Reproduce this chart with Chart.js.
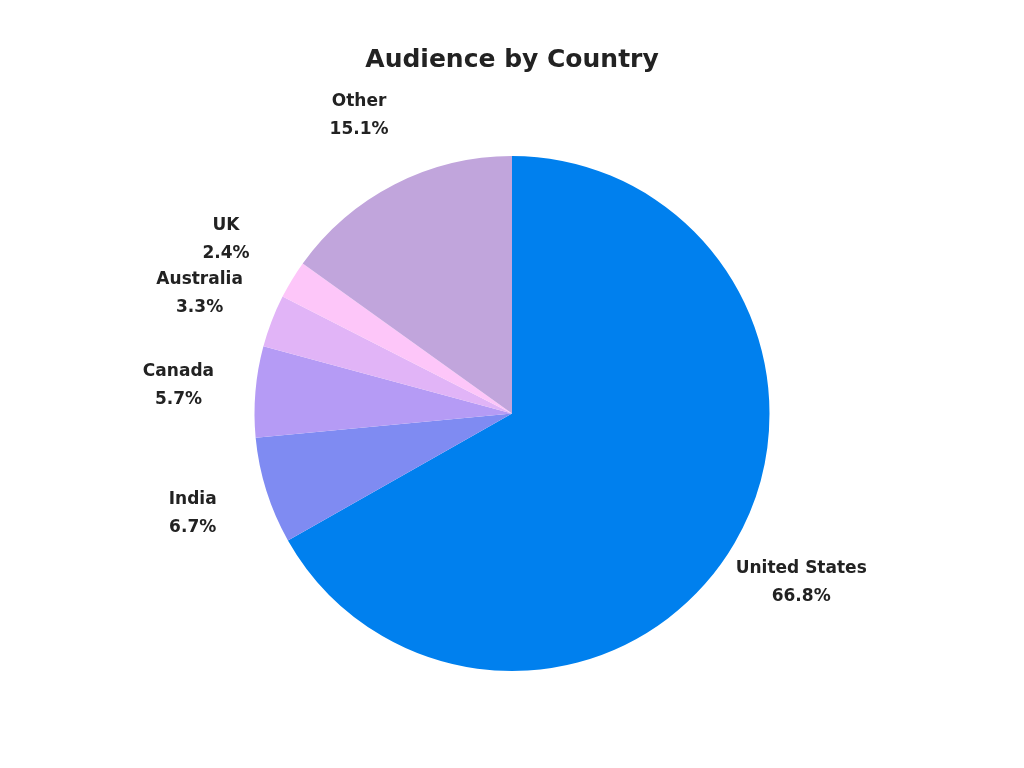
<!DOCTYPE html>
<html><head><meta charset="utf-8">
<script src="https://cdn.jsdelivr.net/npm/chart.js@4"></script>
<style>html,body{margin:0;background:#fff}#w{width:1024px;height:768px}</style>
</head><body><div id="w"><canvas id="c"></canvas></div>
<script>
const categories = ["United States","India","Canada","Australia","UK","Other"];
const values = [66.8,6.7,5.7,3.3,2.4,15.1];
const colors = ["#0080EE","#7F8BF2","#B59BF5","#E1B4F7","#FDC6F9","#C1A5DC"];
const FONT = "'DejaVu Sans', sans-serif";
const labelPlugin = {
  id:'outLabels',
  afterDatasetsDraw(chart){
    const ctx = chart.ctx;
    const meta = chart.getDatasetMeta(0);
    ctx.save();
    ctx.fillStyle = '#222';
    ctx.font = "bold 17px " + FONT;
    ctx.textAlign = 'center';
    ctx.textBaseline = 'middle';
    meta.data.forEach((arc,i)=>{
      const a = (arc.startAngle+arc.endAngle)/2;
      const r = arc.outerRadius*1.3;
      const x = arc.x + Math.cos(a)*r, y = arc.y + Math.sin(a)*r;
      ctx.fillText(categories[i], x, y-14);
      ctx.fillText(values[i].toFixed(1)+'%', x, y+14);
    });
    ctx.restore();
  }
};
new Chart(document.getElementById('c'),{
  type:'pie',
  data:{labels:categories,datasets:[{data:values,backgroundColor:colors,borderWidth:0}]},
  options:{
    responsive:true,maintainAspectRatio:false,animation:false,
    layout:{padding:{bottom:97}},
    plugins:{
      legend:{display:false},tooltip:{enabled:false},
      title:{display:true,text:'Audience by Country',color:'#222',
        font:{family:FONT,size:25,weight:'bold'},padding:{top:45,bottom:81}}
    }
  },
  plugins:[labelPlugin]
});
</script></body></html>
